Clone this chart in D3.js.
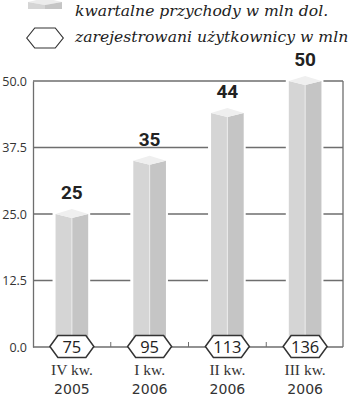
<!DOCTYPE html>
<html>
<head>
<meta charset="utf-8">
<script src="https://cdn.jsdelivr.net/npm/d3@7"></script>
<style>
  body { margin: 0; background: #fff; }
  svg { display: block; }
</style>
</head>
<body>
<script>
/* chart data */
var quarters = ["IV kw.", "I kw.", "II kw.", "III kw."];
var years = ["2005", "2006", "2006", "2006"];
var revenue = [25, 35, 44, 50]; // kwartalne przychody w mln dol.
var users = [75, 95, 113, 136]; // zarejestrowani uzytkownicy w mln
var yTicks = [0, 12.5, 25, 37.5, 50];

var width = 350,
    height = 398;

var svg = d3.select("body").append("svg")
    .attr("width", width)
    .attr("height", height);

/* scales */
var x = d3.scaleBand()
    .domain(d3.range(quarters.length))
    .range([33, 344])
    .paddingInner(0.58)
    .paddingOuter(0.29);

var y = d3.scaleLinear()
    .domain([0, 50])
    .range([347, 81]);

var lineColor = "#6e6e6e";

/* gridlines (top one is frame) */
svg.append("g")
    .selectAll("line")
    .data(yTicks.filter(function(d) { return d > 0; }))
    .enter().append("line")
    .attr("x1", x.range()[0])
    .attr("x2", x.range()[1] - 1)
    .attr("y1", function(d) { return y(d); })
    .attr("y2", function(d) { return y(d); })
    .attr("stroke", lineColor)
    .attr("stroke-width", 1.3);

/* right frame line */
svg.append("line")
    .attr("x1", x.range()[1] - 1).attr("x2", x.range()[1] - 1)
    .attr("y1", y(50)).attr("y2", y(0))
    .attr("stroke", lineColor)
    .attr("stroke-width", 1.3);

/* y axis */
var yAxis = d3.axisLeft(y)
    .tickValues(yTicks)
    .tickFormat(d3.format(".1f"))
    .tickSize(0)
    .tickPadding(6);

var gy = svg.append("g")
    .attr("transform", "translate(" + x.range()[0] + ",0)")
    .call(yAxis);
gy.select(".domain")
    .attr("stroke", lineColor)
    .attr("stroke-width", 1.3);
gy.selectAll(".tick text")
    .attr("fill", "#333")
    .attr("font-family", "'Open Sans', sans-serif")
    .attr("font-size", 12.5);

/* bars */
var bw = x.bandwidth();
var lift = 5; // depth of the top face

var bars = svg.append("g")
    .selectAll("g")
    .data(revenue)
    .enter().append("g")
    .attr("transform", function(d, i) { return "translate(" + x(i) + ",0)"; });

// white halo that breaks the gridlines
bars.append("rect")
    .attr("x", -3)
    .attr("width", bw + 5)
    .attr("y", function(d) { return y(d) - lift - 1; })
    .attr("height", function(d) { return y(0) - y(d) + lift; })
    .attr("fill", "#fff");

// left face
bars.append("path")
    .attr("d", function(d) {
        var t = y(d), b = y(0), c = bw / 2;
        return "M0," + t + "L" + c + "," + (t + 4) + "L" + c + "," + b + "L0," + b + "Z";
    })
    .attr("fill", "#d5d5d5");

// right face
bars.append("path")
    .attr("d", function(d) {
        var t = y(d), b = y(0), c = bw / 2;
        return "M" + c + "," + (t + 4) + "L" + bw + "," + t + "L" + bw + "," + b + "L" + c + "," + b + "Z";
    })
    .attr("fill", "#c5c5c5");

// edge between faces
bars.append("line")
    .attr("x1", bw / 2).attr("x2", bw / 2)
    .attr("y1", function(d) { return y(d) + 4; })
    .attr("y2", y(0))
    .attr("stroke", "#ececec")
    .attr("stroke-width", 1);

// top face
bars.append("path")
    .attr("d", function(d) {
        var t = y(d), c = bw / 2;
        return "M0," + t + "L" + c + "," + (t - lift) + "L" + bw + "," + t + "L" + c + "," + (t + 4) + "Z";
    })
    .attr("fill", "#efefef");

// value labels
bars.append("text")
    .attr("x", bw / 2)
    .attr("y", function(d) { return y(d) - 15; })
    .attr("text-anchor", "middle")
    .attr("font-family", "Roboto, sans-serif")
    .attr("font-weight", "bold")
    .attr("font-size", 19)
    .attr("fill", "#222")
    .text(function(d) { return d; });

/* baseline */
svg.append("line")
    .attr("x1", x.range()[0]).attr("x2", x.range()[1] - 1)
    .attr("y1", y(0)).attr("y2", y(0))
    .attr("stroke", lineColor)
    .attr("stroke-width", 1.5);

/* small ticks between quarters */
svg.append("g")
    .selectAll("line")
    .data(d3.range(1, quarters.length))
    .enter().append("line")
    .attr("x1", function(i) { return x(i) - x.step() * x.paddingInner() / 2; })
    .attr("x2", function(i) { return x(i) - x.step() * x.paddingInner() / 2; })
    .attr("y1", y(0) - 5)
    .attr("y2", y(0))
    .attr("stroke", lineColor)
    .attr("stroke-width", 1);

/* hexagon badges with user counts */
function hexPath(cx, cy, w, h) {
    var hw = w / 2, hh = h / 2, k = 8;
    return "M" + (cx - hw) + "," + cy +
        "L" + (cx - hw + k) + "," + (cy - hh) +
        "L" + (cx + hw - k) + "," + (cy - hh) +
        "L" + (cx + hw) + "," + cy +
        "L" + (cx + hw - k) + "," + (cy + hh) +
        "L" + (cx - hw + k) + "," + (cy + hh) + "Z";
}

var badges = svg.append("g")
    .selectAll("g")
    .data(users)
    .enter().append("g");

badges.append("path")
    .attr("d", function(d, i) { return hexPath(x(i) + bw / 2, y(0) - 0.5, 44, 22); })
    .attr("fill", "#fff")
    .attr("stroke", "#333")
    .attr("stroke-width", 1.5);

badges.append("text")
    .attr("x", function(d, i) { return x(i) + bw / 2; })
    .attr("y", y(0) + 5.5)
    .attr("text-anchor", "middle")
    .attr("font-family", "'Open Sans', sans-serif")
    .attr("font-size", 16.5)
    .attr("fill", "#222")
    .text(function(d) { return d; });

/* quarter labels */
var labels = svg.append("g")
    .selectAll("g")
    .data(quarters)
    .enter().append("g")
    .attr("transform", function(d, i) { return "translate(" + (x(i) + bw / 2) + ",0)"; });

labels.append("text")
    .attr("y", 375)
    .attr("text-anchor", "middle")
    .attr("font-family", "'Liberation Serif', serif")
    .attr("font-size", 15.5)
    .attr("fill", "#333")
    .text(function(d) { return d; });

labels.append("text")
    .attr("y", 394)
    .attr("text-anchor", "middle")
    .attr("font-family", "'DejaVu Sans', sans-serif")
    .attr("font-size", 14)
    .attr("fill", "#333")
    .text(function(d, i) { return years[i]; });

/* legend */
var legend = svg.append("g");

// bar icon
legend.append("path")
    .attr("d", "M28,2L45,-2L62,2L45,5Z")
    .attr("fill", "#ececec");
legend.append("path")
    .attr("d", "M28,2L45,5L45,9L28,9Z")
    .attr("fill", "#d5d5d5");
legend.append("path")
    .attr("d", "M45,5L62,2L62,9L45,9Z")
    .attr("fill", "#c5c5c5");

legend.append("path")
    .attr("d", hexPath(45, 38, 36.5, 20))
    .attr("fill", "#fff")
    .attr("stroke", "#333")
    .attr("stroke-width", 1.2);

legend.selectAll("text")
    .data(["kwartalne przychody w mln dol.", "zarejestrowani użytkownicy w mln"])
    .enter().append("text")
    .attr("x", 75)
    .attr("y", function(d, i) { return 16 + i * 26; })
    .attr("font-family", "'DejaVu Serif', serif")
    .attr("font-style", "italic")
    .attr("font-size", 15.6)
    .attr("fill", "#222")
    .text(function(d) { return d; });
</script>
</body>
</html>
